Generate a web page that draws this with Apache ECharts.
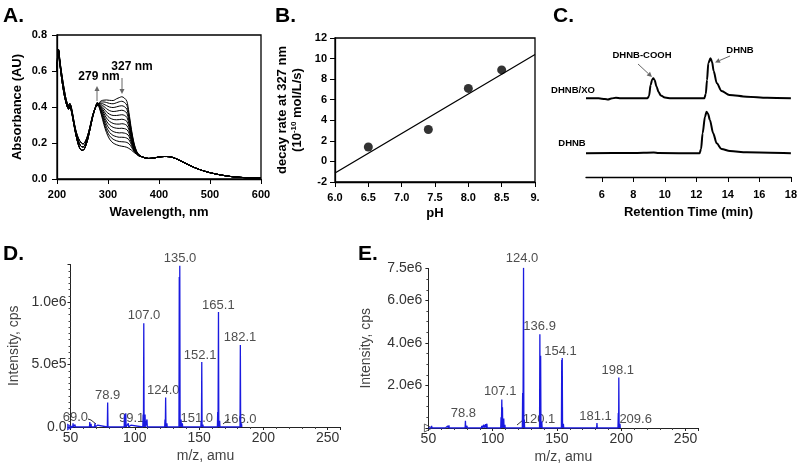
<!DOCTYPE html>
<html>
<head>
<meta charset="utf-8">
<script src="https://cdn.jsdelivr.net/npm/echarts@6/dist/echarts.min.js"></script>
<style>
html,body{margin:0;padding:0;background:#fff;}
#chart{width:800px;height:465px;}
</style>
</head>
<body>
<div id="chart"></div>
<script>
// ---------- Panel A: UV-Vis spectra ----------
const wlHead = [200, 203, 206, 210, 214, 218, 221, 223, 225, 228, 232, 236, 240, 244, 248, 251, 255, 260, 265, 270, 275];
const headA  = [0.64, 0.72, 0.65, 0.57, 0.50, 0.44, 0.415, 0.408, 0.42, 0.40, 0.34, 0.28, 0.24, 0.215, 0.20, 0.195, 0.205, 0.24, 0.295, 0.355, 0.395];
const headB  = [0.62, 0.715, 0.64, 0.555, 0.485, 0.43, 0.405, 0.398, 0.41, 0.39, 0.33, 0.27, 0.225, 0.195, 0.18, 0.178, 0.19, 0.228, 0.287, 0.35, 0.395];
const headC  = [0.60, 0.71, 0.63, 0.54, 0.47, 0.42, 0.395, 0.388, 0.40, 0.38, 0.32, 0.26, 0.21, 0.175, 0.16, 0.16, 0.175, 0.218, 0.28, 0.345, 0.395];
const wlMid = [279, 283, 287, 292, 297, 303, 310, 317, 322, 327, 332, 337, 341, 346, 351, 356, 361, 366];
const c0  = [0.405, 0.425, 0.435, 0.438, 0.439, 0.437, 0.436, 0.446, 0.452, 0.457, 0.450, 0.432, 0.370, 0.275, 0.200, 0.155, 0.135, 0.124];
const c1  = [0.407, 0.422, 0.428, 0.428, 0.425, 0.420, 0.418, 0.424, 0.429, 0.432, 0.426, 0.410, 0.355, 0.265, 0.195, 0.153, 0.134, 0.124];
const c2  = [0.409, 0.420, 0.420, 0.415, 0.408, 0.400, 0.397, 0.401, 0.405, 0.407, 0.402, 0.388, 0.340, 0.256, 0.190, 0.151, 0.133, 0.124];
const c3  = [0.411, 0.418, 0.413, 0.403, 0.391, 0.380, 0.375, 0.377, 0.380, 0.382, 0.378, 0.366, 0.323, 0.247, 0.185, 0.149, 0.132, 0.124];
const c4  = [0.413, 0.416, 0.406, 0.390, 0.373, 0.360, 0.353, 0.353, 0.355, 0.357, 0.354, 0.343, 0.307, 0.238, 0.180, 0.148, 0.132, 0.124];
const c5  = [0.415, 0.414, 0.399, 0.377, 0.356, 0.340, 0.331, 0.329, 0.330, 0.332, 0.329, 0.320, 0.290, 0.229, 0.175, 0.146, 0.131, 0.124];
const c6  = [0.417, 0.411, 0.392, 0.365, 0.339, 0.320, 0.309, 0.305, 0.305, 0.307, 0.305, 0.297, 0.273, 0.220, 0.170, 0.145, 0.130, 0.124];
const c7  = [0.419, 0.408, 0.385, 0.352, 0.322, 0.300, 0.287, 0.282, 0.281, 0.282, 0.280, 0.274, 0.256, 0.210, 0.166, 0.143, 0.130, 0.124];
const c8  = [0.421, 0.405, 0.378, 0.340, 0.305, 0.279, 0.264, 0.258, 0.256, 0.257, 0.255, 0.250, 0.238, 0.200, 0.162, 0.142, 0.129, 0.124];
const c9  = [0.422, 0.402, 0.371, 0.327, 0.288, 0.259, 0.242, 0.235, 0.232, 0.232, 0.231, 0.227, 0.218, 0.190, 0.158, 0.140, 0.128, 0.124];
const c10 = [0.424, 0.398, 0.364, 0.315, 0.272, 0.240, 0.221, 0.212, 0.208, 0.207, 0.206, 0.203, 0.196, 0.178, 0.153, 0.139, 0.127, 0.124];
const c11 = [0.426, 0.395, 0.357, 0.302, 0.258, 0.222, 0.200, 0.190, 0.185, 0.182, 0.180, 0.176, 0.170, 0.160, 0.148, 0.137, 0.127, 0.124];
const wlTail = [372, 380, 390, 400, 410, 420, 430, 440, 450, 460, 470, 480, 490, 500, 520, 540, 560, 580, 600];
const tailA  = [0.118, 0.114, 0.117, 0.122, 0.125, 0.124, 0.117, 0.104, 0.090, 0.076, 0.063, 0.052, 0.043, 0.035, 0.023, 0.014, 0.009, 0.006, 0.004];

// ---------- Panel B: decay rate vs pH ----------
const pH = [6.5, 7.4, 8.0, 8.5];
const decayRate = [1.4, 3.1, 7.1, 8.9];
const fitX = [6.0, 9.0];
const fitY = [-1.12, 10.4];

// ---------- Panel C: HPLC chromatograms ----------
const xoTime   = [5.0, 5.8, 6.2, 6.4, 6.6, 6.9, 7.2, 8.0, 8.9, 9.0, 9.1, 9.2, 9.27, 9.35, 9.48, 9.6, 9.75, 10.0, 10.4, 12.5, 12.6, 12.68, 12.76, 12.9, 13.0, 13.1, 13.3, 13.6, 14.1, 15.2, 16.5, 18.0];
const xoSignal = [7.87, 7.87, 7.8, 7.75, 7.85, 7.93, 7.88, 7.87, 7.87, 8.1, 9.2, 9.75, 9.87, 9.7, 9.03, 8.5, 8.15, 7.95, 7.87, 7.87, 8.3, 9.7, 11.37, 11.87, 11.5, 10.6, 9.37, 8.6, 8.2, 8.03, 7.93, 7.87];
const dhTime   = [5.0, 8.0, 9.3, 9.6, 12.2, 12.3, 12.4, 12.55, 12.65, 12.75, 12.86, 13.07, 13.29, 13.6, 14.13, 15.2, 18.0];
const dhSignal = [2.37, 2.4, 2.45, 2.4, 2.37, 2.8, 4.37, 6.03, 6.53, 6.3, 5.7, 4.37, 3.37, 2.8, 2.6, 2.47, 2.37];
const xTicksC = [6, 8, 10, 12, 14, 16, 18];

// ---------- Panel D: MS spectrum ----------
const mzD  = [52, 53.5, 55, 65, 66, 69, 71, 78.9, 80, 92, 93, 95, 97, 106.5, 107.0, 108, 109.5, 123.5, 124.0, 125, 134.6, 135.0, 136, 137, 151.6, 152.1, 153, 164.5, 165.1, 166, 182.1, 183];
const intD = [0.03e6, 0.02e6, 0.015e6, 0.04e6, 0.025e6, 0.03e6, 0.015e6, 0.195e6, 0.015e6, 0.10e6, 0.11e6, 0.03e6, 0.015e6, 0.10e6, 0.83e6, 0.10e6, 0.06e6, 0.06e6, 0.235e6, 0.03e6, 1.2e6, 1.29e6, 0.06e6, 0.03e6, 0.05e6, 0.52e6, 0.02e6, 0.12e6, 0.92e6, 0.05e6, 0.656e6, 0.03e6];
const labelTextD = ["135.0", "107.0", "165.1", "182.1", "152.1", "124.0", "78.9", "69.0", "99.1", "151.0", "166.0"];
const labelMzD   = [135.2, 107.2, 165.0, 181.9, 150.8, 122.2, 78.9, 53.8, 97.6, 148.2, 182.0];
const labelIntD  = [1.35e6, 0.89e6, 0.976e6, 0.714e6, 0.57e6, 0.296e6, 0.25e6, 0.08e6, 0.07e6, 0.07e6, 0.064e6];

// ---------- Panel E: MS spectrum ----------
const mzE  = [52.5, 53.5, 55, 63.5, 65, 66, 67, 78.8, 80, 81.5, 83, 91.5, 93, 94.5, 95.5, 96.5, 106.5, 107.1, 107.6, 108.6, 109.5, 120.1, 123.3, 124.0, 124.6, 136.7, 137.3, 138.2, 153.7, 154.1, 155, 181.1, 197.7, 198.1, 199];
const intE = [0.1e6, 0.08e6, 0.03e6, 0.05e6, 0.1e6, 0.12e6, 0.04e6, 0.34e6, 0.1e6, 0.07e6, 0.03e6, 0.1e6, 0.15e6, 0.18e6, 0.2e6, 0.08e6, 0.5e6, 1.34e6, 0.98e6, 0.45e6, 0.15e6, 0.05e6, 1.65e6, 7.55e6, 0.4e6, 4.41e6, 3.4e6, 0.3e6, 3.2e6, 3.29e6, 0.2e6, 0.23e6, 0.71e6, 2.38e6, 0.2e6];
const labelTextE = ["124.0", "136.9", "154.1", "198.1", "107.1", "78.8", "120.1", "181.1", "209.6"];
const labelMzE   = [122.8, 136.5, 152.7, 197.3, 105.8, 77.2, 136.0, 180.0, 211.2];
const labelIntE  = [7.98e6, 4.77e6, 3.6e6, 2.71e6, 1.7e6, 0.68e6, 0.4e6, 0.55e6, 0.4e6];

// ---------- builders ----------
const FONT = '"Liberation Sans", Arial, sans-serif';
const curvesMid = [c0, c1, c2, c3, c4, c5, c6, c7, c8, c9, c10, c11];
const heads = [headA, headA, headB, headA, headB, headB, headC, headB, headC, headC, headC, headC];
function buildCurve(head, mid) {
  const pts = [];
  wlHead.forEach((w, i) => pts.push([w, head[i]]));
  wlMid.forEach((w, i) => pts.push([w, mid[i]]));
  wlTail.forEach((w, i) => pts.push([w, tailA[i]]));
  return pts;
}
function zip(a, b) { return a.map((v, i) => [v, b[i]]); }
function sticks(mz, inten) {
  const s = mz.map((m, i) => [m, inten[i]]).sort((a, b) => a[0] - b[0]);
  const d = [[50, 0]];
  s.forEach(p => { d.push([p[0] - 0.25, 0], [p[0], p[1]], [p[0] + 0.25, 0]); });
  return d;
}
function labelData(mz, inten, txt) {
  return mz.map((m, i) => ({ value: [m, inten[i]], name: txt[i] }));
}
function msFmt(v) { return v === 0 ? '0.0' : v.toExponential(1).replace('e+', 'e'); }

const boldAxisLabel = { fontFamily: FONT, fontWeight: 'bold', fontSize: 11, color: '#000' };
const boldName = { fontFamily: FONT, fontWeight: 'bold', fontSize: 13, color: '#000' };
const blackLine = { onZero: false, lineStyle: { color: '#000', width: 1.3 } };
const msLabel = { fontFamily: FONT, fontSize: 14, color: '#333' };
const msName = { fontFamily: FONT, fontSize: 14, color: '#444' };

const series = [];
curvesMid.forEach((mid, i) => {
  series.push({
    type: 'line', xAxisIndex: 0, yAxisIndex: 0, data: buildCurve(heads[i], mid),
    showSymbol: false, symbol: 'none', smooth: 0.3, silent: true,
    lineStyle: { color: '#000', width: 1 }
  });
});
series.push({
  type: 'line', xAxisIndex: 1, yAxisIndex: 1, data: zip(fitX, fitY), symbol: 'none',
  lineStyle: { color: '#000', width: 1.3 }
});
series.push({
  type: 'scatter', xAxisIndex: 1, yAxisIndex: 1, data: zip(pH, decayRate), symbolSize: 9,
  itemStyle: { color: '#000' }
});
series.push({
  type: 'line', xAxisIndex: 2, yAxisIndex: 2, data: zip(xoTime, xoSignal), symbol: 'none',
  smooth: 0.3, smoothMonotone: 'x', lineStyle: { color: '#000', width: 2 }
});
series.push({
  type: 'line', xAxisIndex: 2, yAxisIndex: 2, data: zip(dhTime, dhSignal), symbol: 'none',
  smooth: 0.3, smoothMonotone: 'x', lineStyle: { color: '#000', width: 2 }
});
series.push({
  type: 'line', xAxisIndex: 3, yAxisIndex: 3, data: sticks(mzD, intD), symbol: 'none',
  lineStyle: { color: '#1a1ae0', width: 1.3 }
});
series.push({
  type: 'line', xAxisIndex: 4, yAxisIndex: 4, data: sticks(mzE, intE), symbol: 'none',
  lineStyle: { color: '#1a1ae0', width: 1.3 }
});
series.push({
  type: 'scatter', xAxisIndex: 3, yAxisIndex: 3, clip: false, symbolSize: 1,
  itemStyle: { color: 'rgba(0,0,0,0)' }, data: labelData(labelMzD, labelIntD, labelTextD),
  label: { show: true, position: 'inside', formatter: '{b}', fontFamily: FONT, fontSize: 13, color: '#222' }
});
series.push({
  type: 'scatter', xAxisIndex: 4, yAxisIndex: 4, clip: false, symbolSize: 1,
  itemStyle: { color: 'rgba(0,0,0,0)' }, data: labelData(labelMzE, labelIntE, labelTextE),
  label: { show: true, position: 'inside', formatter: '{b}', fontFamily: FONT, fontSize: 13, color: '#222' }
});
series.push({
  type: 'scatter', xAxisIndex: 3, yAxisIndex: 3, clip: false, symbol: 'triangle', symbolRotate: -90,
  symbolSize: 7, data: [[50, 0]], itemStyle: { color: '#1a1ae0' }
});
series.push({
  type: 'scatter', xAxisIndex: 4, yAxisIndex: 4, clip: false, symbol: 'triangle', symbolRotate: -90,
  symbolSize: 8, data: [[50, 0]], itemStyle: { color: 'rgba(0,0,0,0)', borderColor: '#444', borderWidth: 1 }
});

function arrow(x1, y1, x2, y2, color, head) {
  const ang = Math.atan2(y2 - y1, x2 - x1);
  const h = head || 5, w = h * 0.5;
  const bx = x2 - h * Math.cos(ang), by = y2 - h * Math.sin(ang);
  return [
    { type: 'line', shape: { x1: x1, y1: y1, x2: bx, y2: by }, style: { stroke: color, lineWidth: 1 }, silent: true },
    { type: 'polygon', shape: { points: [[x2, y2], [bx + w * Math.sin(ang), by - w * Math.cos(ang)], [bx - w * Math.sin(ang), by + w * Math.cos(ang)]] }, style: { fill: color }, silent: true }
  ];
}
function txt(x, y, t, size, weight, align, color) {
  return { type: 'text', x: x, y: y, silent: true,
    style: { text: t, fontFamily: FONT, fontSize: size, fontWeight: weight || 'normal', fill: color || '#000', align: align || 'center', verticalAlign: 'middle' } };
}

const graphics = [
  txt(3, 16, 'A.', 21, 'bold', 'left'),
  txt(275, 16, 'B.', 21, 'bold', 'left'),
  txt(553, 16, 'C.', 21, 'bold', 'left'),
  txt(3, 254, 'D.', 21, 'bold', 'left'),
  txt(358, 254, 'E.', 21, 'bold', 'left'),
  txt(99, 77, '279 nm', 12, 'bold'),
  txt(132, 67, '327 nm', 12, 'bold'),
  txt(642, 55, 'DHNB-COOH', 9.5, 'bold'),
  txt(740, 50, 'DHNB', 9.5, 'bold'),
  txt(573, 90, 'DHNB/XO', 9.5, 'bold'),
  txt(572, 143, 'DHNB', 9.5, 'bold'),
  { type: 'polyline', shape: { points: [[88, 419], [91, 420], [96, 424]] }, style: { stroke: '#333', lineWidth: 1, fill: null }, silent: true },
  { type: 'line', shape: { x1: 223, y1: 424, x2: 229, y2: 419 }, style: { stroke: '#333', lineWidth: 1 }, silent: true },
  { type: 'line', shape: { x1: 517, y1: 425, x2: 523, y2: 420 }, style: { stroke: '#333', lineWidth: 1 }, silent: true }
].concat(arrow(97, 101, 97, 86, '#666', 5))
 .concat(arrow(122, 78, 122, 94, '#666', 5))
 .concat(arrow(638, 64, 652, 77, '#666', 5))
 .concat(arrow(730, 56, 715, 62.5, '#666', 5));

const option = {
  animation: false,
  backgroundColor: '#fff',
  textStyle: { fontFamily: FONT },
  graphic: { elements: graphics },
  grid: [
    { left: 57, top: 35, width: 204, height: 144, show: true, borderColor: '#000', borderWidth: 1.3 },
    { left: 335, top: 38, width: 200, height: 144, show: true, borderColor: '#000', borderWidth: 1.3 },
    { left: 586, top: 37, width: 205, height: 140 },
    { left: 70.5, top: 264.5, width: 270, height: 162.5 },
    { left: 428.4, top: 268.5, width: 270, height: 160 }
  ],
  xAxis: [
    { gridIndex: 0, type: 'value', min: 200, max: 600, interval: 100, axisLine: blackLine,
      axisTick: { length: 5, lineStyle: { color: '#000' } }, splitLine: { show: false },
      axisLabel: Object.assign({ margin: 10 }, boldAxisLabel),
      name: 'Wavelength, nm', nameLocation: 'middle', nameGap: 27, nameTextStyle: boldName },
    { gridIndex: 1, type: 'value', min: 6, max: 9, interval: 0.5, axisLine: blackLine,
      axisTick: { length: 5, lineStyle: { color: '#000' } }, splitLine: { show: false },
      axisLabel: Object.assign({ margin: 10, formatter: v => v === 9 ? '9.' : v.toFixed(1) }, boldAxisLabel),
      name: 'pH', nameLocation: 'middle', nameGap: 25, nameTextStyle: boldName },
    { gridIndex: 2, type: 'value', min: 5, max: 18, axisLine: blackLine,
      axisTick: { length: 5, lineStyle: { color: '#000' }, customValues: xTicksC }, splitLine: { show: false },
      axisLabel: Object.assign({ margin: 12, customValues: xTicksC }, boldAxisLabel),
      name: 'Retention Time (min)', nameLocation: 'middle', nameGap: 29, nameTextStyle: boldName },
    { gridIndex: 3, type: 'value', min: 50, max: 260, interval: 50, axisLine: { onZero: false, lineStyle: { color: '#222', width: 1 } },
      axisTick: { length: 3, lineStyle: { color: '#222' } }, minorTick: { show: true, splitNumber: 5, length: 2, lineStyle: { color: '#444' } },
      splitLine: { show: false }, axisLabel: Object.assign({ margin: 4, showMaxLabel: false }, msLabel),
      name: 'm/z, amu', nameLocation: 'middle', nameGap: 22, nameTextStyle: msName },
    { gridIndex: 4, type: 'value', min: 50, max: 260, interval: 50, axisLine: { onZero: false, lineStyle: { color: '#222', width: 1 } },
      axisTick: { length: 3, lineStyle: { color: '#222' } }, minorTick: { show: true, splitNumber: 5, length: 2, lineStyle: { color: '#444' } },
      splitLine: { show: false }, axisLabel: Object.assign({ margin: 4, showMaxLabel: false }, msLabel),
      name: 'm/z, amu', nameLocation: 'middle', nameGap: 22, nameTextStyle: msName }
  ],
  yAxis: [
    { gridIndex: 0, type: 'value', min: 0, max: 0.8, interval: 0.2, axisLine: blackLine,
      axisTick: { length: 5, lineStyle: { color: '#000' } }, splitLine: { show: false },
      axisLabel: Object.assign({ margin: 10, formatter: v => v.toFixed(1) }, boldAxisLabel),
      name: 'Absorbance (AU)', nameLocation: 'middle', nameGap: 33, nameTextStyle: boldName },
    { gridIndex: 1, type: 'value', min: -2, max: 12, interval: 2, axisLine: blackLine,
      axisTick: { length: 5, lineStyle: { color: '#000' } }, splitLine: { show: false },
      axisLabel: Object.assign({ margin: 8 }, boldAxisLabel),
      name: '{a|decay rate at 327 nm}\n{a|(10}{s|-10}{a| mol/L/s)}', nameLocation: 'middle', nameGap: 30,
      nameTextStyle: { fontFamily: FONT, fontWeight: 'bold', fontSize: 13, color: '#000', lineHeight: 15,
        rich: { a: { fontFamily: FONT, fontWeight: 'bold', fontSize: 13, color: '#000', lineHeight: 15 },
                s: { fontFamily: FONT, fontWeight: 'bold', fontSize: 8, color: '#000', verticalAlign: 'top', lineHeight: 15 } } } },
    { gridIndex: 2, type: 'value', min: 0, max: 14, show: false },
    { gridIndex: 3, type: 'value', min: 0, max: 1.3e6, interval: 5e5, axisLine: { show: true, onZero: false, lineStyle: { color: '#222', width: 1 } },
      axisTick: { show: true, length: 3, lineStyle: { color: '#222' } }, minorTick: { show: true, splitNumber: 10, length: 2, lineStyle: { color: '#444' } },
      splitLine: { show: false }, axisLabel: Object.assign({ margin: 4, showMaxLabel: false, formatter: msFmt }, msLabel),
      name: 'Intensity, cps', nameLocation: 'middle', nameGap: 49, nameTextStyle: msName },
    { gridIndex: 4, type: 'value', min: 0, max: 7.5e6, interval: 2e6, axisLine: { show: true, onZero: false, lineStyle: { color: '#222', width: 1 } },
      axisTick: { show: true, length: 3, lineStyle: { color: '#222' } }, minorTick: { show: true, splitNumber: 4, length: 2, lineStyle: { color: '#444' } },
      splitLine: { show: false }, axisLabel: Object.assign({ margin: 6, showMinLabel: false, formatter: msFmt }, msLabel),
      name: 'Intensity, cps', nameLocation: 'middle', nameGap: 55, nameTextStyle: msName }
  ],
  series: series
};

const chart = echarts.init(document.getElementById('chart'), null, { renderer: 'canvas' });
chart.setOption(option);
</script>
</body>
</html>
